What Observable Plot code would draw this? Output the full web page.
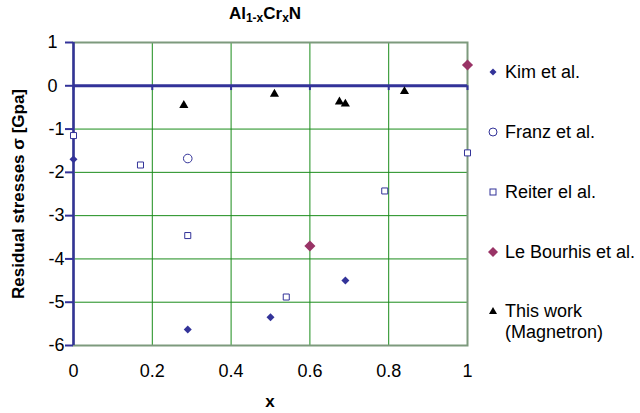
<!DOCTYPE html>
<html><head><meta charset="utf-8">
<script src="https://cdn.jsdelivr.net/npm/d3@7"></script>
<script src="https://cdn.jsdelivr.net/npm/@observablehq/plot@0.6"></script>
<style>
html,body{margin:0;padding:0;background:#fff;}
#wrap{position:relative;width:640px;height:413px;font-family:"Liberation Sans",Arial,sans-serif;color:#000;}
#title{position:absolute;left:0;width:530px;top:4px;text-align:center;font-weight:bold;font-size:17px;}
#title sub{font-size:12px;vertical-align:-3px;line-height:0;}
#ylab{position:absolute;left:19px;top:194px;transform:translate(-50%,-50%) rotate(-90deg);white-space:nowrap;font-weight:bold;font-size:17px;}
#xlab{position:absolute;left:270px;top:402px;transform:translate(-50%,-50%);font-weight:bold;font-size:17px;}
.leg{position:absolute;left:505px;font-size:18px;line-height:21px;transform:translateY(-50%);white-space:nowrap;}
.lm{position:absolute;overflow:visible;}
</style></head>
<body><div id="wrap"></div>
<script>
const xTicks = [0, 0.2, 0.4, 0.6, 0.8, 1];
const yTicks = [1, 0, -1, -2, -3, -4, -5, -6];
const kimX = [0, 0.29, 0.50, 0.69];
const kimY = [-1.70, -5.63, -5.35, -4.50];
const franzX = [0.29];
const franzY = [-1.68];
const reiterX = [0, 0.17, 0.29, 0.54, 0.79, 1];
const reiterY = [-1.15, -1.83, -3.46, -4.88, -2.43, -1.55];
const bourhisX = [0.60, 1];
const bourhisY = [-3.70, 0.48];
const workX = [0.28, 0.51, 0.675, 0.69, 0.84];
const workY = [-0.45, -0.19, -0.37, -0.42, -0.13];
const seriesNames = ["Kim et al.", "Franz et al.", "Reiter el al.", "Le Bourhis et al.", "This work<br>(Magnetron)"];

const blue = "#333399", maroon = "#993366", green = "#1a8c1a";
const pts = (xs, ys) => xs.map((x, i) => ({x, y: ys[i]}));
const fmt = d => String(d);

const chart = Plot.plot({
  width: 640, height: 413,
  marginLeft: 73, marginRight: 173, marginTop: 42, marginBottom: 68,
  style: {fontFamily: "'Liberation Sans', Arial, sans-serif", fontSize: "18px", background: "white", color: "black"},
  x: {domain: [0, 1]},
  y: {domain: [-6, 1]},
  marks: [
    Plot.ruleX(xTicks.slice(1, -1), {stroke: green, strokeWidth: 1}),
    Plot.ruleY(yTicks.slice(1, -1), {stroke: green, strokeWidth: 1}),
    Plot.frame({stroke: "#7d9a7d", strokeWidth: 2}),
    Plot.ruleX([0], {stroke: blue, strokeWidth: 2.5}),
    Plot.ruleY([0], {stroke: blue, strokeWidth: 3}),
    Plot.ruleX(xTicks, {y1: 0, y2: -0.11, stroke: blue, strokeWidth: 2}),
    Plot.axisY({ticks: yTicks.filter(v => v < 0), tickFormat: fmt, tickSize: 8, tickPadding: 1, stroke: blue, strokeWidth: 2, strokeOpacity: 1, fill: "black", label: null}),
    Plot.axisY({ticks: yTicks.filter(v => v >= 0), tickFormat: fmt, tickSize: 8, tickPadding: 8, stroke: blue, strokeWidth: 2, strokeOpacity: 1, fill: "black", label: null}),
    Plot.axisX({ticks: xTicks, tickFormat: fmt, tickSize: 0, tickPadding: 19, fill: "black", label: null}),
    Plot.dot(pts(reiterX, reiterY), {x: "x", y: "y", symbol: "square", r: 3.4, stroke: blue, strokeWidth: 1, fill: "white"}),
    Plot.dot(pts(franzX, franzY), {x: "x", y: "y", symbol: "circle", r: 4.3, stroke: blue, strokeWidth: 1, fill: "white"}),
    Plot.dot(pts(kimX, kimY), {x: "x", y: "y", symbol: "diamond2", r: 3.6, fill: blue, stroke: "none"}),
    Plot.dot(pts(bourhisX, bourhisY), {x: "x", y: "y", symbol: "diamond2", r: 5, fill: maroon, stroke: "none"}),
    Plot.dot(pts(workX, workY), {x: "x", y: "y", symbol: "triangle", r: 3.4, fill: "black", stroke: "none"})
  ]
});

const wrap = document.getElementById("wrap");
wrap.appendChild(chart);
chart.style.position = "absolute"; chart.style.left = "0"; chart.style.top = "0";

wrap.insertAdjacentHTML("beforeend",
  `<div id="title">Al<sub>1-x</sub>Cr<sub>x</sub>N</div>
   <div id="ylab">Residual stresses σ [Gpa]</div>
   <div id="xlab">x</div>`);

const legY = [72, 132, 192, 252, 311];
const legMarkers = [
  `<path d="M0,-3.5L3.5,0L0,3.5L-3.5,0Z" fill="${blue}"/>`,
  `<circle r="4" fill="white" stroke="${blue}" stroke-width="1"/>`,
  `<rect x="-3" y="-3" width="6" height="6" fill="white" stroke="${blue}" stroke-width="1"/>`,
  `<path d="M0,-5L5,0L0,5L-5,0Z" fill="${maroon}"/>`,
  `<path d="M0,-4L4,3L-4,3Z" fill="black"/>`
];
seriesNames.forEach((name, i) => {
  const top = i === 4 ? legY[i] + 10.5 : legY[i];
  wrap.insertAdjacentHTML("beforeend",
    `<svg class="lm" width="12" height="12" style="left:${493-6}px;top:${legY[i]-6}px" viewBox="-6 -6 12 12">${legMarkers[i]}</svg>
     <div class="leg" style="top:${top}px">${name}</div>`);
});
</script>
</body></html>
